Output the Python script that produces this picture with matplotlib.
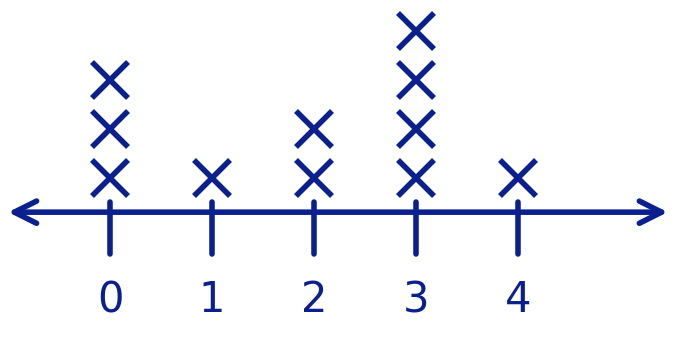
import numpy as np
import matplotlib.pyplot as plt

# dot plot: how many X marks sit above each value
values = [0, 1, 2, 3, 4]
counts = [3, 1, 2, 4, 1]
tick_labels = ['0', '1', '2', '3', '4']

ink = '#0b1f8f'

fig = plt.figure(figsize=(6.79, 3.43), dpi=100)
ax = fig.add_axes([0, 0, 1, 1])
ax.set_xlim(-1.08, 5.58)
ax.set_ylim(-2.67, 4.33)
ax.axis('off')

# number line with open arrow heads on both ends
ax.annotate('', xy=(-1.0, 0), xytext=(5.47, 0),
            arrowprops=dict(arrowstyle='<->', color=ink, lw=4,
                            mutation_scale=40, shrinkA=0, shrinkB=0))

# ticks and labels
for v, lab in zip(values, tick_labels):
    ax.plot([v, v], [0.2, -0.85], color=ink, lw=4, solid_capstyle='round')
    ax.text(v, -1.8, lab, color=ink, fontsize=30, ha='center', va='center')

# stacked X marks
for v, n in zip(values, counts):
    ys = np.arange(n) + 0.7
    ax.plot([v] * n, ys, linestyle='none', marker='x', markersize=26,
            markeredgewidth=4, color=ink)

fig.savefig('out.png', dpi=100)
